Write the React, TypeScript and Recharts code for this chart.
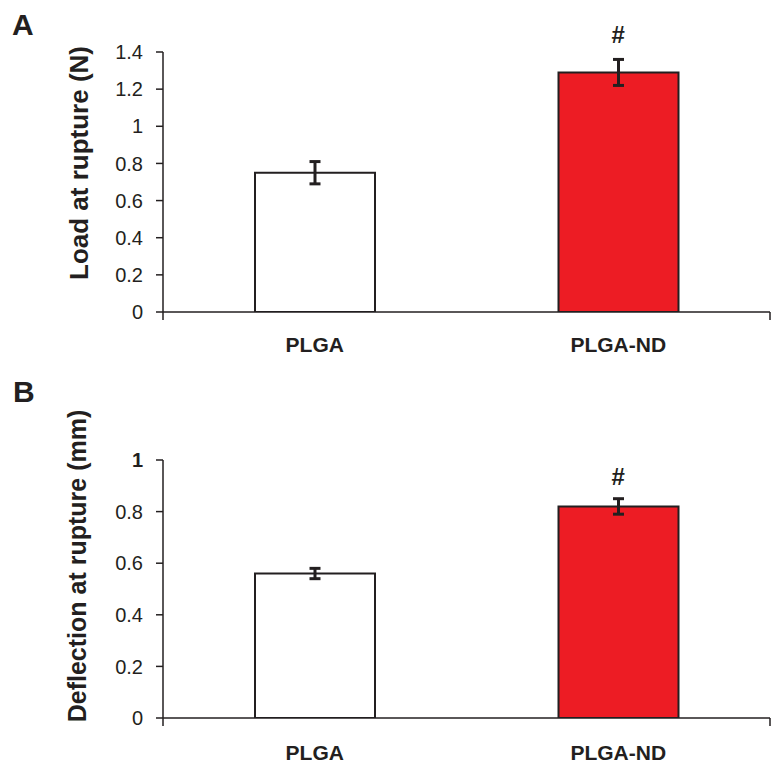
import React from "react";
import {
  BarChart,
  Bar,
  Cell,
  XAxis,
  YAxis,
  ErrorBar,
  ReferenceDot,
} from "recharts";

const categories = ["PLGA", "PLGA-ND"];
const barColors = ["#ffffff", "#ed1c24"];

// Panel A: load at rupture (N)
const loadMean = [0.75, 1.29];
const loadErr = [0.06, 0.07];
const loadTicks = [0, 0.2, 0.4, 0.6, 0.8, 1, 1.2, 1.4];

// Panel B: deflection at rupture (mm)
const deflMean = [0.56, 0.82];
const deflErr = [0.02, 0.03];
const deflTicks = [0, 0.2, 0.4, 0.6, 0.8, 1];

// significance marker sits on PLGA-ND
const sigCategory = "PLGA-ND";
const sigMark = "#";

// boundary ticks on the category axis
const groupEdges = [0, 1, 2];

const INK = "#231f20";
const FONT = "'Liberation Sans', Arial, Helvetica, sans-serif";

const loadData = categories.map((c, i) => ({ name: c, value: loadMean[i], err: loadErr[i] }));
const deflData = categories.map((c, i) => ({ name: c, value: deflMean[i], err: deflErr[i] }));

function YTick(props: any) {
  const { x, y, payload, boldValues } = props;
  const bold = boldValues && boldValues.includes(payload.value);
  return (
    <text
      x={x}
      y={y}
      dy="0.36em"
      textAnchor="end"
      fill={INK}
      fontSize={20}
      fontFamily={FONT}
      fontWeight={bold ? "bold" : "normal"}
    >
      {String(payload.value)}
    </text>
  );
}

function NoLabel() {
  return <g />;
}

function yLabel(text: string, x: number, y: number, size: number) {
  return () => (
    <text
      x={x}
      y={y}
      transform={`rotate(-90 ${x} ${y})`}
      textAnchor="middle"
      fill={INK}
      fontSize={size}
      fontWeight="bold"
      fontFamily={FONT}
    >
      {text}
    </text>
  );
}

function SigLabel(props: any) {
  const { viewBox, lift } = props;
  const cx = viewBox.x + (viewBox.width || 0) / 2;
  const cy = viewBox.y + (viewBox.height || 0) / 2 - lift;
  return (
    <text x={cx} y={cy} textAnchor="middle" fill={INK} fontSize={24} fontWeight="bold" fontFamily={FONT}>
      {sigMark}
    </text>
  );
}

function Panel({
  data,
  ticks,
  domainMax,
  width,
  height,
  top,
  xAxisHeight,
  labelGap,
  yTitle,
  yTitleX,
  yTitleY,
  yTitleSize,
  sigY,
  sigLift,
  boldTicks,
}: any) {
  return (
    <BarChart
      width={width}
      height={height}
      data={data}
      margin={{ top, right: 12, bottom: 0, left: 0 }}
      barSize={120}
    >
      <XAxis
        xAxisId="b"
        dataKey="name"
        tickLine={false}
        tickSize={0}
        tickMargin={labelGap}
        axisLine={false}
        height={xAxisHeight}
        tick={{ fill: INK, fontSize: 21, fontWeight: "bold", fontFamily: FONT }}
        interval={0}
      />
      <XAxis
        xAxisId="a"
        type="number"
        domain={[0, 2]}
        ticks={groupEdges}
        interval={0}
        allowDataOverflow
        tick={<NoLabel />}
        tickSize={8}
        tickLine={{ stroke: INK, strokeWidth: 1.5 }}
        axisLine={{ stroke: INK, strokeWidth: 1.5 }}
        height={1}
      />
      <YAxis
        domain={[0, domainMax]}
        ticks={ticks}
        allowDataOverflow
        width={163}
        tickSize={7}
        tickMargin={13}
        tickLine={{ stroke: INK, strokeWidth: 1.5 }}
        axisLine={{ stroke: INK, strokeWidth: 1.5 }}
        tick={<YTick boldValues={boldTicks} />}
        label={yLabel(yTitle, yTitleX, yTitleY, yTitleSize)}
      />
      <Bar xAxisId="b" dataKey="value" stroke={INK} strokeWidth={2} isAnimationActive={false}>
        {data.map((d: any, i: number) => (
          <Cell key={d.name} fill={barColors[i]} />
        ))}
        <ErrorBar dataKey="err" width={5.5} strokeWidth={3} stroke={INK} isAnimationActive={false} />
      </Bar>
      <ReferenceDot
        xAxisId="b"
        x={sigCategory}
        y={sigY}
        r={1}
        fill="none"
        stroke="none"
        label={<SigLabel lift={sigLift} />}
      />
    </BarChart>
  );
}

export default function App() {
  const sigIdx = categories.indexOf(sigCategory);
  return (
    <div style={{ position: "absolute", left: 0, top: 0, width: 782, height: 773, background: "#fff" }}>
      <div
        style={{
          position: "absolute",
          left: 12,
          top: 10,
          fontFamily: FONT,
          fontWeight: "bold",
          fontSize: 30,
          lineHeight: "30px",
          color: INK,
        }}
      >
        A
      </div>
      <div
        style={{
          position: "absolute",
          left: 13,
          top: 377,
          fontFamily: FONT,
          fontWeight: "bold",
          fontSize: 30,
          lineHeight: "30px",
          color: INK,
        }}
      >
        B
      </div>
      <div style={{ position: "absolute", left: 0, top: 0 }}>
        <Panel
          data={loadData}
          ticks={loadTicks}
          domainMax={1.4}
          width={782}
          height={365}
          top={52}
          xAxisHeight={52}
          labelGap={24}
          yTitle="Load at rupture (N)"
          yTitleX={88}
          yTitleY={163}
          yTitleSize={26}
          sigY={loadMean[sigIdx] + loadErr[sigIdx]}
          sigLift={16}
          boldTicks={[]}
        />
      </div>
      <div style={{ position: "absolute", left: 0, top: 365 }}>
        <Panel
          data={deflData}
          ticks={deflTicks}
          domainMax={1}
          width={782}
          height={408}
          top={95}
          xAxisHeight={54}
          labelGap={26}
          yTitle="Deflection at rupture (mm)"
          yTitleX={86}
          yTitleY={201}
          yTitleSize={25}
          sigY={deflMean[sigIdx] + deflErr[sigIdx]}
          sigLift={14}
          boldTicks={[1]}
        />
      </div>
    </div>
  );
}
